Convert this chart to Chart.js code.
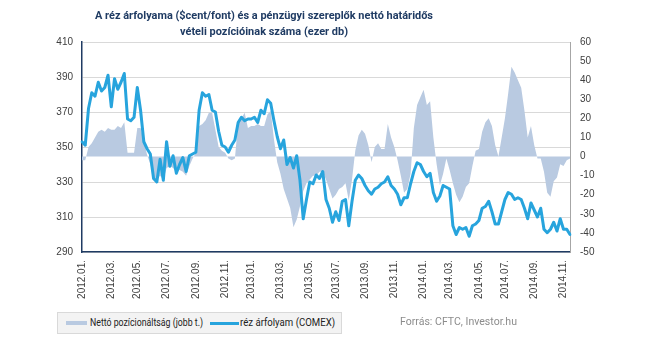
<!DOCTYPE html>
<html>
<head>
<meta charset="utf-8">
<script src="https://cdn.jsdelivr.net/npm/chart.js@4/dist/chart.umd.min.js"></script>
<style>
  html, body { margin:0; padding:0; background:#fff; }
  #wrap { position:relative; width:645px; height:351px; overflow:hidden; }
  #c { position:absolute; left:0; top:0; }
  .txt { position:absolute; white-space:nowrap; display:inline-block; transform-origin:0 50%; }
  .title { font-family:Roboto,"DejaVu Sans",sans-serif; font-weight:bold; font-size:11.5px; line-height:14px; color:#1F3B63; }
  .leg { font-family:Roboto,"DejaVu Sans",sans-serif; font-size:11px; line-height:14px; color:#222; }
  .src { font-family:Roboto,"DejaVu Sans",sans-serif; font-size:11.5px; line-height:14px; color:#8c8c8c; }
  #legendBox { position:absolute; left:57px; top:312px; width:285px; height:22px;
    border:1px solid #d9d9d9; background:#f3f3f3; box-sizing:border-box; }
  .sw { position:absolute; }
</style>
</head>
<body>
<div id="wrap">
  <canvas id="c" width="645" height="351"></canvas>
  <div id="legendBox"></div>
</div>
<script>
// ---- data ----
const titleLines = ["A réz árfolyama ($cent/font) és a pénzügyi szereplők nettó határidős",
                    "vételi pozícióinak száma (ezer db)"];
const seriesNames = ["Nettó pozícionáltság (jobb t.)", "réz árfolyam (COMEX)"];
const sourceText = "Forrás: CFTC, Investor.hu";
const startDate = "2012-01-03"; // weekly observations
const weekCount = 151;
// copper price, $cent/pound (left axis)
const price = [
 353,351,372,381,379,387,382,384,391,373,389,383,387,392,366,365,367,384,371,353,
 349,346,332,330,343,331,353,339,345,335,340,344,336,345,346,347,371,381,379,380,
 371,370,359,351,350,347,351,354,364,367,365,366,366,367,364,371,369,377,375,365,
 356,349,354,340,344,338,345,331,309,320,330,329,334,332,336,320,315,307,313,308,
 319,320,305,319,331,334,332,328,325,323,326,327,329,330,333,328,326,323,317,321,
 321,329,336,341,340,336,333,335,324,319,322,328,327,326,305,300,304,303,304,299,
 305,306,308,315,316,319,313,306,306,313,320,324,323,320,321,320,315,309,318,314,
 310,315,303,301,303,307,302,309,303,303,300
];
// net position of money managers, thousand contracts (right axis)
const netPos = [
 -2,-2,5,7,10,13,14,13,15,14,14,16,15,18,2,2,2,15,15,8,
 1,-4,-12,-12,-10,-12,-6,-5,-6,-8,-7,-8,-10,-5,-1,2,16,17,19,23,
 23,14,5,3,2,-1,-2,-1,18,20,23,15,16,16,17,16,16,22,24,9,
 -3,-9,-17,-22,-27,-37,-33,-26,-18,-14,-12,-10,-10,-8,-8,-12,-17,-22,-20,-17,
 -16,-14,-23,-12,3,11,14,12,6,-3,5,7,4,4,17,10,5,-2,-10,-19,
 -17,-9,15,27,31,35,27,29,10,-4,-15,-9,-1,-7,-14,-20,-24,-21,-16,-14,
 -5,3,4,13,18,20,16,6,0,10,20,33,47,44,40,36,24,10,16,6,
 -1,-1,-8,-19,-21,-13,-11,-4,-5,-2,-1
];
const leftTicks = [290, 310, 330, 350, 370, 390, 410];
const rightTicks = [-50,-40,-30,-20,-10,0,10,20,30,40,50,60];
const labelMonths = [1,3,5,7,9,11]; // tick label every second month

// ---- categories (weekly dates) ----
const weeks = [];
{
  const d0 = new Date(startDate + "T12:00:00Z");
  for (let i = 0; i < weekCount; i++) {
    const d = new Date(d0.getTime() + i * 7 * 86400000);
    weeks.push({ y: d.getUTCFullYear(), m: d.getUTCMonth() + 1, day: d.getUTCDate() });
  }
}
const categories = weeks.map(w => w.y + "." + String(w.m).padStart(2, "0") + "." + String(w.day).padStart(2, "0"));
function tickLabel(i) {
  const w = weeks[i];
  if (w && w.day <= 7 && labelMonths.includes(w.m)) return w.y + "." + String(w.m).padStart(2, "0") + ".";
  return "";
}

const AREA = "#B9CAE1";
const LINE = "#27A4DD";
const NAVY = "#1F3B63";
const TICKC = "#404040";
const FONT = { family: "'Liberation Sans', Arial, sans-serif", size: 10 };

const chart = new Chart(document.getElementById("c"), {
  type: "line",
  data: {
    labels: categories,
    datasets: [
      { label: seriesNames[0], data: netPos, yAxisID: "y1", fill: "origin",
        backgroundColor: AREA, borderColor: AREA, borderWidth: 0, pointRadius: 0, tension: 0, order: 2 },
      { label: seriesNames[1], data: price, yAxisID: "y", fill: false,
        borderColor: LINE, backgroundColor: LINE, borderWidth: 3, pointRadius: 0, tension: 0,
        borderJoinStyle: "round", borderCapStyle: "round", order: 1 }
    ]
  },
  options: {
    responsive: false, animation: false, devicePixelRatio: 1,
    layout: { padding: { left: 55, right: 49, top: 42, bottom: 49 } },
    plugins: { legend: { display: false }, title: { display: false }, tooltip: { enabled: false } },
    scales: {
      x: {
        type: "category", offset: false,
        grid: { display: false, drawTicks: false },
        border: { display: true, color: NAVY, width: 1.5 },
        ticks: { autoSkip: false, minRotation: 90, maxRotation: 90, padding: 8, color: TICKC, font: FONT,
          callback: (v, i) => tickLabel(i) },
        afterFit: s => { s.height = 50; }
      },
      y: {
        position: "left", min: 290, max: 410,
        afterBuildTicks: s => { s.ticks = leftTicks.map(v => ({ value: v })); },
        grid: { color: "#D9D9D9", lineWidth: 1, drawTicks: false },
        border: { display: true, color: NAVY, width: 1.5 },
        ticks: { padding: 9, color: TICKC, font: FONT },
        afterFit: s => { s.width = 27; }
      },
      y1: {
        position: "right", min: -50, max: 60,
        afterBuildTicks: s => { s.ticks = rightTicks.map(v => ({ value: v })); },
        grid: { display: false, drawTicks: false },
        border: { display: true, color: "#A6A6A6", width: 1 },
        ticks: { padding: 10, color: TICKC, font: FONT },
        afterFit: s => { s.width = 26; }
      }
    }
  }
});

// ---- HTML text: title, legend (from datasets), source ----
const wrap = document.getElementById("wrap");
function addText(text, cls, left, top, targetWidth, centerX) {
  const el = document.createElement("div");
  el.className = "txt " + cls;
  el.textContent = text;
  wrap.appendChild(el);
  const w = el.getBoundingClientRect().width;
  const k = targetWidth / w;
  el.style.transform = "scaleX(" + k + ")";
  el.style.left = (centerX !== undefined ? centerX - targetWidth / 2 : left) + "px";
  el.style.top = top + "px";
  return el;
}
function addSwatch(left, top, w, h, color) {
  const el = document.createElement("div");
  el.className = "sw";
  el.style.cssText = "left:" + left + "px;top:" + top + "px;width:" + w + "px;height:" + h + "px;background:" + color;
  wrap.appendChild(el);
}
addText(titleLines[0], "title", 0, 8, 338, 264);
addText(titleLines[1], "title", 0, 24, 168, 264);
const ds = chart.data.datasets;
addSwatch(66, 321, 21, 4, ds[0].backgroundColor);
addText(ds[0].label, "leg", 90, 316, 113);
addSwatch(210, 322, 29, 2.5, ds[1].borderColor);
addText(ds[1].label, "leg", 240, 316, 95);
addText(sourceText, "src", 400, 314, 117);
</script>
</body>
</html>
